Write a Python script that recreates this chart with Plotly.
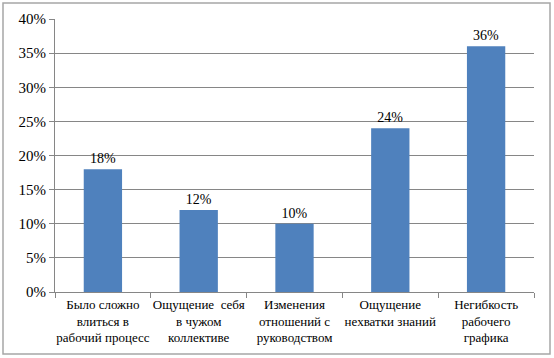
import plotly.graph_objects as go

categories = [
    "Было сложно<br>влиться в<br>рабочий процесс",
    "Ощущение  себя<br>в чужом<br>коллективе",
    "Изменения<br>отношений с<br>руководством",
    "Ощущение<br>нехватки знаний",
    "Негибкость<br>рабочего<br>графика",
]
values = [18, 12, 10, 24, 36]
y_ticks = [0, 5, 10, 15, 20, 25, 30, 35, 40]

W, H = 554, 358
L, R, T, B = 55, 20, 19, 66
pw, ph = W - L - R, H - T - B

def px_x(p):
    return (p - L) / pw

def px_y(p):
    return (H - B - p) / ph

SERIF = "Liberation Serif"

fig = go.Figure(go.Bar(
    x=categories, y=values,
    marker=dict(color="#4F81BD", line=dict(width=0)),
    text=[f"{v}%" for v in values], textposition="outside",
    textfont=dict(family=SERIF, size=14, color="black"),
    cliponaxis=False, width=0.4,
))

fig.update_layout(
    width=W, height=H,
    margin=dict(l=L, r=R, t=T, b=B, autoexpand=False),
    paper_bgcolor="white", plot_bgcolor="white",
    font=dict(family=SERIF, color="black", size=13),
    showlegend=False,
    shapes=[dict(type="rect", xref="paper", yref="paper",
                 x0=px_x(3), x1=px_x(550), y0=px_y(354), y1=px_y(3),
                 line=dict(color="#A6A6A6", width=1.5), layer="below")],
)
fig.update_xaxes(
    type="category", showline=True, linecolor="#868686", linewidth=1,
    ticks="outside", tickson="boundaries", ticklen=5, tickcolor="#868686",
    showgrid=False, tickangle=0, automargin=False,
    tickfont=dict(size=13, family=SERIF, color="black"),
)
fig.update_yaxes(
    range=[0, 40], tickvals=y_ticks, ticktext=[f"{v}%" for v in y_ticks],
    showline=True, linecolor="#868686", linewidth=1,
    ticks="outside", ticklen=5, tickcolor="#868686", automargin=False,
    showgrid=True, gridcolor="#868686", gridwidth=1, zeroline=False,
    tickfont=dict(size=15, family=SERIF, color="black"),
)

js = "document.body.style.margin='0';document.body.style.overflow='hidden';"
fig.write_html("out.html", post_script=js, config={"displayModeBar": False})
